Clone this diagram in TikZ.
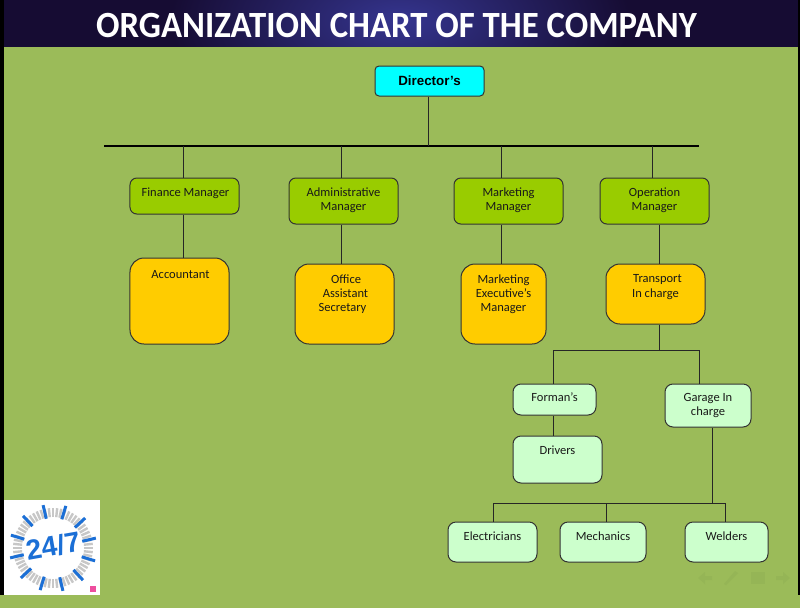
\documentclass[tikz,border=0pt]{standalone}
\usepackage{fontspec}
\setmainfont{Carlito}
\newfontfamily\headfont{Liberation Sans}
\usetikzlibrary{positioning,calc}
\definecolor{slidegreen}{HTML}{9BBB59}
\definecolor{bandnavy}{HTML}{160C33}
\definecolor{bandglow}{HTML}{35358F}
\definecolor{directorcyan}{HTML}{00FFFF}
\definecolor{managergreen}{HTML}{99CC00}
\definecolor{staffamber}{HTML}{FFCC00}
\definecolor{crewmint}{HTML}{CCFFCC}
\definecolor{logoblue}{HTML}{1B6FD6}
\definecolor{navgreen}{HTML}{95B556}
\definecolor{buspink}{HTML}{EE4E9E}
\newcommand{\tail}[1]{\rule[-#1mm]{0pt}{#1mm}}
\begin{document}
\begin{tikzpicture}[
    x=0.25mm, y=-0.25mm,
    orgbox/.style={rectangle, draw=black!80, line width=0.25mm, inner sep=0pt, align=center,
        text=black!90, font=\fontsize{8.9}{10.1}\selectfont},
    manager/.style={orgbox, fill=managergreen, rounded corners=1.7mm},
    staff/.style={orgbox, fill=staffamber, rounded corners=3.5mm},
    crew/.style={orgbox, fill=crewmint, rounded corners=2mm},
    link/.style={draw=black!85, line width=0.25mm},
    navicon/.style={fill=navgreen, draw=none}
]
    % Slide background
    \useasboundingbox (0,0) rectangle (800,608);
    \fill[black] (0,0) rectangle (800,608);

    % Title band
    \begin{scope}
        \clip (4,0) rectangle (798,47);
        \fill[bandnavy] (4,0) rectangle (798,47);
        \shade[inner color=bandglow, outer color=bandnavy] (400,20) ellipse (230 and 110);
    \end{scope}
    \fill[slidegreen] (4,47) rectangle (798,608);
    \fill[slidegreen] (0,595) rectangle (800,608);
    \node[text=white, xscale=0.94, font=\fontsize{26.3}{28}\selectfont\bfseries] (title) at (396.5,25) {ORGANIZATION CHART OF THE COMPANY};

    % Top of the chart
    \node[orgbox, fill=directorcyan, rounded corners=1mm, minimum width=27.25mm, minimum height=7.5mm,
        text=black, font=\fontsize{9.5}{11}\selectfont\headfont\bfseries] (director) at (429.5,81) {Director’s};
    \coordinate (busleft) at (104,146);
    \coordinate (busright) at (699,146);
    \coordinate (busdir) at (428,146);
    \coordinate (busfin) at (183,146);
    \coordinate (busadm) at (341,146);
    \coordinate (busmkt) at (501,146);
    \coordinate (busopr) at (652,146);
    \draw[black, line width=0.6mm] (busleft) -- (busright);

    % Managers
    \node[manager, minimum width=27.25mm, minimum height=9mm] (finance) at (184.5,196) {\hspace*{0.5mm}Finance Manager\tail{2}};
    \node[manager, minimum width=27.25mm, minimum height=11.5mm] (admin) at (343.5,201) {Administrative\\Manager\tail{1}};
    \node[manager, minimum width=27.25mm, minimum height=11.5mm] (marketing) at (508.5,201) {Marketing\\Manager\tail{1}};
    \node[manager, minimum width=27.25mm, minimum height=11.5mm] (operation) at (654.5,201) {Operation\\Manager\tail{1}};

    % Staff under the managers
    \node[staff, minimum width=24.75mm, minimum height=21.5mm] (accountant) at (179.5,301) {\hspace*{0.5mm}Accountant\tail{13.5}};
    \node[staff, minimum width=24.75mm, minimum height=20mm] (office) at (344.5,304) {\hspace*{0.8mm}Office\\\hspace*{0.5mm}Assistant\\Secretary\hspace*{1mm}\tail{5.5}};
    \node[staff, minimum width=21.25mm, minimum height=20mm] (executive) at (503.5,304) {Marketing\\Executive’s\\Manager\tail{5.5}};
    \node[staff, minimum width=24.75mm, minimum height=15mm] (transport) at (655.5,294) {\hspace*{1mm}Transport\\In charge\tail{4}};

    % Transport crew
    \node[crew, minimum width=20.75mm, minimum height=7.75mm] (forman) at (554.5,399.5) {Forman’s\tail{1.25}};
    \node[crew, minimum width=21.5mm, minimum height=10.75mm] (garage) at (708,405.5) {Garage In\\charge\tail{0.5}};
    \node[crew, minimum width=22.25mm, minimum height=11.75mm] (drivers) at (557.5,459.5) {Drivers\tail{4.75}};
    \node[crew, minimum width=22.25mm, minimum height=10mm] (electricians) at (492.5,542) {Electricians\tail{3}};
    \node[crew, minimum width=21.5mm, minimum height=10mm] (mechanics) at (603,542) {Mechanics\tail{3}};
    \node[crew, minimum width=20.75mm, minimum height=10mm] (welders) at (726.5,542) {Welders\tail{3}};

    % Connectors
    \draw[link] (busdir |- director.south) -- (busdir);
    \draw[link] (busfin) -- (busfin |- finance.north);
    \draw[link] (busadm) -- (busadm |- admin.north);
    \draw[link] (busmkt) -- (busmkt |- marketing.north);
    \draw[link] (busopr) -- (busopr |- operation.north);
    \draw[link] (busfin |- finance.south) -- (busfin |- accountant.north);
    \draw[link] (busadm |- admin.south) -- (busadm |- office.north);
    \draw[link] (busmkt |- marketing.south) -- (busmkt |- executive.north);

    \coordinate (oprdrop) at (659,350);
    \coordinate (formanbar) at (553,350);
    \coordinate (garagebar) at (699,350);
    \draw[link] (oprdrop |- operation.south) -- (oprdrop |- transport.north);
    \draw[link] (oprdrop |- transport.south) -- (oprdrop);
    \draw[link] (forman.north -| formanbar) -- (formanbar) -- (garagebar) -- (garagebar |- garage.north);
    \draw[link] (formanbar |- forman.south) -- (formanbar |- drivers.north);

    \coordinate (garagedrop) at (712,503);
    \coordinate (elecbar) at (493,503);
    \coordinate (mechbar) at (606,503);
    \coordinate (weldbar) at (725,503);
    \draw[link] (garagedrop |- garage.south) -- (garagedrop);
    \draw[link] (elecbar |- electricians.north) -- (elecbar) -- (weldbar) -- (weldbar |- welders.north);
    \draw[link] (mechbar) -- (mechbar |- mechanics.north);

    % Logo
    \fill[white] (4,500) rectangle (100,595);
    \foreach \a in {0,6,...,354} {
        \draw[black!22, line width=0.6mm] ($(53,548)+(\a:31)$) -- ($(53,548)+(\a:40)$);
    }
    \foreach \a in {-103,-73,...,240} {
        \draw[logoblue, line width=0.75mm] ($(53,548)+(\a:30)$) -- ($(53,548)+(\a:44)$);
    }
    \node[text=logoblue, rotate=10, font=\fontsize{20}{22}\selectfont\headfont\bfseries] (clock) at (53,546) {24/7};
    \fill[buspink] (90,586) rectangle (96,592);

    % Navigation icons
    \fill[navicon] (698,578) -- (705,572) -- (705,576) -- (712,576) -- (712,580) -- (705,580) -- (705,584) -- cycle;
    \fill[navicon] (726,585) -- (724,584) -- (735,571) -- (738,573) -- cycle;
    \fill[navicon] (751,572) rectangle (765,584);
    \fill[navicon] (790,578) -- (783,572) -- (783,576) -- (776,576) -- (776,580) -- (783,580) -- (783,584) -- cycle;
\end{tikzpicture}
\end{document}
